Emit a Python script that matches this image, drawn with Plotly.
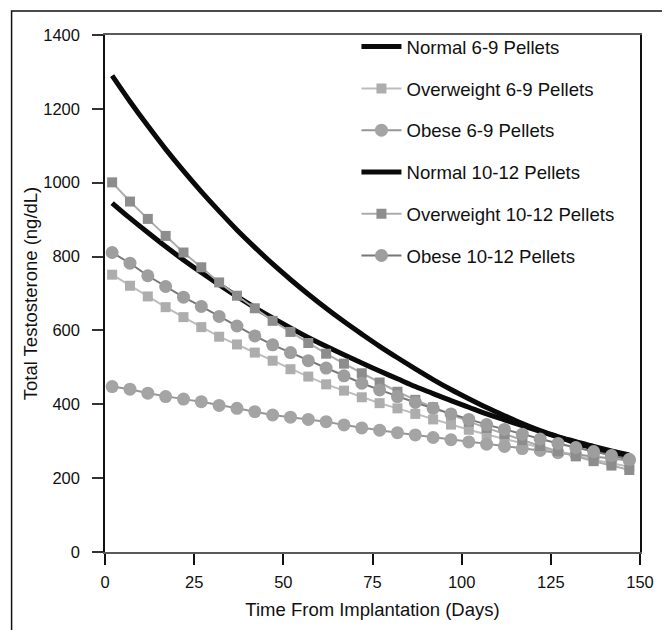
import plotly.graph_objects as go

days = [2, 7, 12, 17, 22, 27, 32, 37, 42, 47, 52, 57, 62, 67, 72,
        77, 82, 87, 92, 97, 102, 107, 112, 117, 122, 127, 132, 137, 142, 147]

normal_6_9 = [945, 904, 865, 827, 791, 757, 724, 692, 662, 634, 607, 581, 557, 534, 512,
              490, 469, 448, 429, 410, 392, 374, 358, 342, 327, 312, 299, 286, 274, 263]
overweight_6_9 = [751, 721, 692, 663, 636, 609, 583, 562, 540, 518, 495, 475, 454, 437, 419,
                  403, 389, 374, 359, 345, 331, 318, 306, 294, 282, 271, 260, 250, 240, 231]
obese_6_9 = [448, 441, 430, 421, 414, 407, 397, 389, 380, 371, 365, 359, 353, 344, 336,
             330, 323, 317, 310, 304, 298, 292, 286, 280, 275, 269, 264, 258, 253, 248]
normal_10_12 = [1290, 1220, 1154, 1091, 1032, 976, 923, 872, 825, 780, 738, 698, 660, 624, 590,
                557, 526, 496, 467, 440, 415, 391, 369, 348, 329, 312, 295, 281, 268, 256]
overweight_10_12 = [1001, 949, 902, 856, 811, 771, 730, 694, 660, 626, 596, 566, 537, 510, 484,
                    459, 434, 412, 392, 372, 353, 336, 319, 303, 287, 273, 259, 246, 234, 222]
obese_10_12 = [811, 782, 748, 719, 690, 665, 638, 612, 585, 561, 540, 518, 498, 477, 457,
               439, 421, 405, 389, 374, 359, 345, 332, 319, 306, 294, 283, 272, 261, 251]

names = ["Normal 6-9 Pellets", "Overweight 6-9 Pellets", "Obese 6-9 Pellets",
         "Normal 10-12 Pellets", "Overweight 10-12 Pellets", "Obese 10-12 Pellets"]

x_ticks = [0, 25, 50, 75, 100, 125, 150]
y_ticks = [0, 200, 400, 600, 800, 1000, 1200, 1400]

FONT = "Liberation Sans, Arial, sans-serif"

fig = go.Figure()

def add_line(y, name, grp):
    fig.add_trace(go.Scatter(x=days, y=y, name=name, mode="lines", legendgroup=grp,
                             line=dict(color="#0a0a0a", width=5, shape="spline")))

def add_marked(y, name, grp, symbol, mcolor, lcolor, size):
    fig.add_trace(go.Scatter(x=days, y=y, name=name, mode="lines+markers", legendgroup=grp,
                             line=dict(color=lcolor, width=2),
                             marker=dict(symbol=symbol, size=size, color=mcolor,
                                         line=dict(width=0))))

add_line(normal_6_9, names[0], "a")
add_marked(overweight_6_9, names[1], "b", "square", "#adadad", "#bdbdbd", 10)
add_marked(obese_6_9, names[2], "c", "circle", "#a4a4a4", "#969696", 13)
add_line(normal_10_12, names[3], "d")
add_marked(overweight_10_12, names[4], "e", "square", "#8d8d8d", "#acacac", 10)
add_marked(obese_10_12, names[5], "f", "circle", "#9e9e9e", "#777777", 13)

# page has an 8px body margin; figure laid out in page coords minus 8
L, R, T, B = 96.5, 632.0, 27.0, 544.0
PW, PH = R - L, B - T

fig.add_shape(type="rect", xref="paper", yref="paper",
              x0=(3 - L) / PW, x1=(659 - L) / PW,
              y0=-(660 - B) / PH, y1=1 + (T - 3) / PH,
              line=dict(color="#111111", width=1.5), layer="below")

fig.update_layout(
    width=662, height=622,
    margin=dict(l=L, r=662 - R, t=T, b=622 - B),
    paper_bgcolor="white", plot_bgcolor="white",
    font=dict(family=FONT, color="#111111"),
    showlegend=True,
    legend=dict(x=0.470, y=1.0135, xanchor="left", yanchor="top",
                font=dict(size=18.6, family=FONT, color="#111111"),
                bgcolor="rgba(0,0,0,0)", tracegroupgap=14.6, itemwidth=40),
    xaxis=dict(range=[0, 150], tickvals=x_ticks, ticktext=[str(v) for v in x_ticks],
               showgrid=False, zeroline=False, showline=True, linecolor="#5a5a5a",
               linewidth=2, mirror=True, ticks="outside", ticklen=11, tickwidth=2,
               tickcolor="#111111", tickfont=dict(size=16.5, family=FONT),
               ticklabelstandoff=3,
               title=dict(text="Time From Implantation (Days)", font=dict(size=18.5, family=FONT),
                          standoff=13)),
    yaxis=dict(range=[0, 1400], tickvals=y_ticks, ticktext=[str(v) for v in y_ticks],
               showgrid=False, zeroline=False, showline=True, linecolor="#111111",
               linewidth=1.5, mirror=True, ticks="outside", ticklen=11, tickwidth=1.5,
               tickcolor="#333333", tickfont=dict(size=16.5, family=FONT),
               ticklabelstandoff=9,
               title=dict(text="Total Testosterone (ng/dL)", font=dict(size=18.5, family=FONT),
                          standoff=1)),
)

fig.write_html("out.html")
